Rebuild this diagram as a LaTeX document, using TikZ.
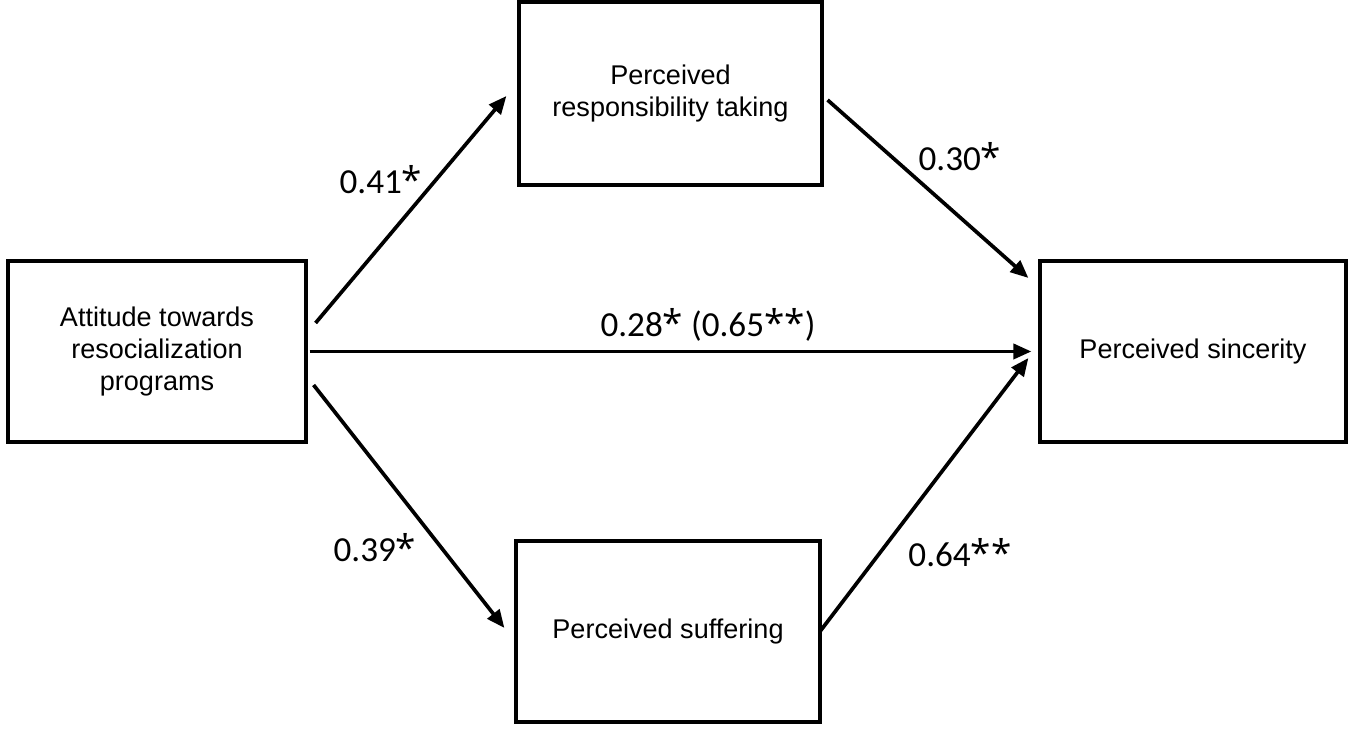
\documentclass[tikz,border=0pt]{standalone}
\usepackage{fontspec}
\setmainfont{Liberation Sans}
\newfontfamily\labfont{Carlito}
\newfontfamily\astfont{Open Sans}
\usetikzlibrary{arrows.meta}
\newcommand{\st}{{\astfont\fontsize{10.5}{12}\selectfont *}}
\tikzset{
  box/.style={draw=black, line width=0.9pt, align=center, inner sep=0pt,
    font=\fontsize{7.7}{9}\selectfont},
  conn/.style={line width=1.05pt, -{Triangle[length=0.18cm, width=0.15cm]}},
  lab/.style={font=\labfont\fontsize{10}{12}\selectfont, inner sep=0pt}
}
\begin{document}
\begin{tikzpicture}
\useasboundingbox (0,0) rectangle (13.5,7.31);
\node[box, minimum width=2.98cm, minimum height=1.81cm] (L) at (1.57,3.795) {Attitude towards\\resocialization\\programs};
\node[box, minimum width=3.03cm, minimum height=1.83cm] (T) at (6.705,6.375) {Perceived\\responsibility taking};
\node[box, minimum width=3.04cm, minimum height=1.81cm] (B) at (6.68,0.995) {Perceived suffering};
\node[box, minimum width=3.06cm, minimum height=1.81cm] (R) at (11.93,3.795) {Perceived sincerity};

\coordinate (lt) at ([shift={(0.08,0.285)}]L.east);
\coordinate (tl) at ([shift={(-0.11,-0.025)}]T.west);
\coordinate (tr) at ([shift={(0.04,-0.065)}]T.east);
\coordinate (rt) at ([shift={(-0.10,0.735)}]R.west);
\coordinate (lm) at ([shift={(0.02,0)}]L.east);
\coordinate (rm) at ([shift={(-0.07,0)}]R.west);
\coordinate (lb) at ([shift={(0.06,-0.335)}]L.east);
\coordinate (bl) at ([shift={(-0.10,0.035)}]B.west);
\coordinate (br) at ([shift={(-0.02,-0.005)}]B.east);
\coordinate (rb) at ([shift={(-0.10,-0.065)}]R.west);

\draw[conn] (lt) -- (tl);
\draw[conn] (tr) -- (rt);
\draw[conn] (lm) -- (rm);
\draw[conn] (lb) -- (bl);
\draw[conn] (br) -- (rb);

\node[lab] (l1) at (3.81,5.51) {0.41\st};
\node[lab] (l2) at (9.60,5.74) {0.30\st};
\node[lab] (l3) at (7.08,4.06) {0.28\st{} (0.65\st\st)};
\node[lab] (l4) at (3.75,1.83) {0.39\st};
\node[lab] (l5) at (9.60,1.78) {0.64\st\st};
\end{tikzpicture}
\end{document}
